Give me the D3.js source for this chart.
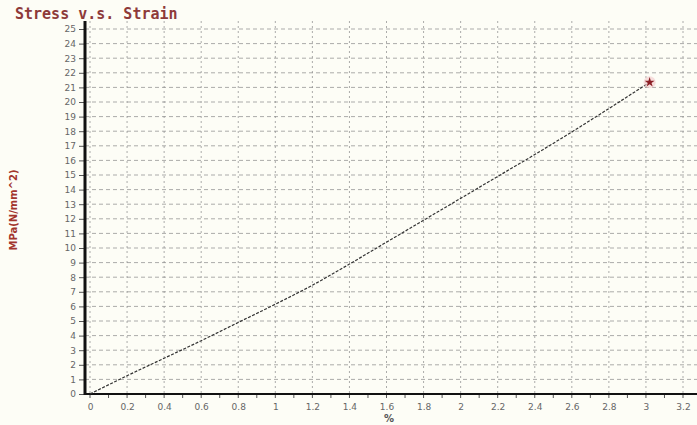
<!DOCTYPE html>
<html>
<head>
<meta charset="utf-8">
<script src="https://cdn.jsdelivr.net/npm/d3@7"></script>
<style>
  html, body { margin: 0; padding: 0; background: #fdfdf6; }
  svg { display: block; }
</style>
</head>
<body>
<svg id="chart" width="697" height="425"></svg>
<script>
// ---- data ----
const strain = [0, 0.2, 0.4, 0.6, 0.8, 1.0, 1.2, 1.4, 1.6, 1.8, 2.0, 2.2, 2.4, 2.6, 2.8, 3.02];
const stress = [0, 1.25, 2.45, 3.65, 4.9, 6.15, 7.45, 8.9, 10.4, 11.9, 13.4, 14.9, 16.4, 17.95, 19.55, 21.35];
const xTicks = [0, 0.2, 0.4, 0.6, 0.8, 1, 1.2, 1.4, 1.6, 1.8, 2, 2.2, 2.4, 2.6, 2.8, 3, 3.2];
const xMinorTicks = d3.range(0, 33).map(i => i / 10);
const yTicks = d3.range(0, 26);
const title = "Stress v.s. Strain";
const yLabel = "MPa(N/mm^2)";
const xLabel = "%";

// ---- layout ----
const W = 697, H = 425;
const axisX = 85, plotRight = 697, plotTop = 21;
const x = d3.scaleLinear().domain([0, 3.2]).range([90, 683]);
const y = d3.scaleLinear().domain([0, 25]).range([394, 29]);

const svg = d3.select("#chart");

// horizontal grid
svg.append("g").selectAll("line").data(yTicks.filter(d => d > 0)).join("line")
  .attr("x1", axisX).attr("x2", plotRight)
  .attr("y1", d => y(d)).attr("y2", d => y(d))
  .attr("stroke", "#8a8a8a").attr("stroke-width", 1)
  .attr("stroke-dasharray", "4,3").attr("opacity", 0.7);

// vertical grid
svg.append("g").selectAll("line").data(xTicks).join("line")
  .attr("x1", d => x(d)).attr("x2", d => x(d))
  .attr("y1", plotTop).attr("y2", y(0))
  .attr("stroke", "#8a8a8a").attr("stroke-width", 1)
  .attr("stroke-dasharray", "2,3").attr("opacity", 0.7);

// y axis
const yAxis = d3.axisLeft(y).tickValues(yTicks).tickSize(5).tickPadding(3).tickFormat(d3.format("d"));
const gy = svg.append("g").attr("transform", `translate(${axisX - 1},0)`).call(yAxis);
gy.select(".domain").remove();
gy.selectAll(".tick line").attr("stroke", "#555");
gy.selectAll(".tick text").attr("fill", "#666").attr("font-family", "DejaVu Sans, sans-serif").attr("font-size", 9);
svg.append("line").attr("x1", axisX).attr("x2", axisX).attr("y1", plotTop).attr("y2", y(0) + 1)
  .attr("stroke", "#111").attr("stroke-width", 3);

// x axis
const xAxis = d3.axisBottom(x).tickValues(xTicks).tickSize(0).tickPadding(10).tickFormat(d3.format("~g"));
const gx = svg.append("g").attr("transform", `translate(0,${y(0)})`).call(xAxis);
gx.select(".domain").remove();
gx.selectAll(".tick text").attr("fill", "#666").attr("font-family", "DejaVu Sans, sans-serif").attr("font-size", 9);
svg.append("g").selectAll("line").data(xMinorTicks).join("line")
  .attr("x1", d => x(d)).attr("x2", d => x(d))
  .attr("y1", y(0)).attr("y2", y(0) + 4)
  .attr("stroke", "#555").attr("stroke-width", 1);
svg.append("line").attr("x1", axisX - 1).attr("x2", plotRight).attr("y1", y(0)).attr("y2", y(0))
  .attr("stroke", "#111").attr("stroke-width", 2);

// data line
const pts = strain.map((s, i) => [s, stress[i]]);
svg.append("path").datum(pts)
  .attr("d", d3.line().curve(d3.curveMonotoneX).x(d => x(d[0])).y(d => y(d[1])))
  .attr("fill", "none").attr("stroke", "#333").attr("stroke-width", 1.2)
  .attr("stroke-dasharray", "3,1.5");

// end marker
const last = pts[pts.length - 1];
svg.append("circle").attr("cx", x(last[0])).attr("cy", y(last[1])).attr("r", 6)
  .attr("fill", "#f3c9cc").attr("opacity", 0.6);
svg.append("path").attr("transform", `translate(${x(last[0])},${y(last[1])})`)
  .attr("d", d3.symbol(d3.symbolStar, 30)())
  .attr("fill", "#8b1f25");

// title
svg.append("text").attr("x", 15).attr("y", 19).text(title)
  .attr("font-family", "DejaVu Sans Mono, monospace").attr("font-size", 15).attr("font-weight", "bold")
  .attr("fill", "#8e3a3a");

// y label
svg.append("text").attr("transform", "translate(17,210) rotate(-90)").attr("text-anchor", "middle")
  .text(yLabel)
  .attr("font-family", "DejaVu Sans, sans-serif").attr("font-size", 10).attr("font-weight", "bold")
  .attr("fill", "#a2352d");

// x label
svg.append("text").attr("x", 389).attr("y", 422).attr("text-anchor", "middle").text(xLabel)
  .attr("font-family", "DejaVu Sans, sans-serif").attr("font-size", 10).attr("font-weight", "bold")
  .attr("fill", "#555");
</script>
</body>
</html>
